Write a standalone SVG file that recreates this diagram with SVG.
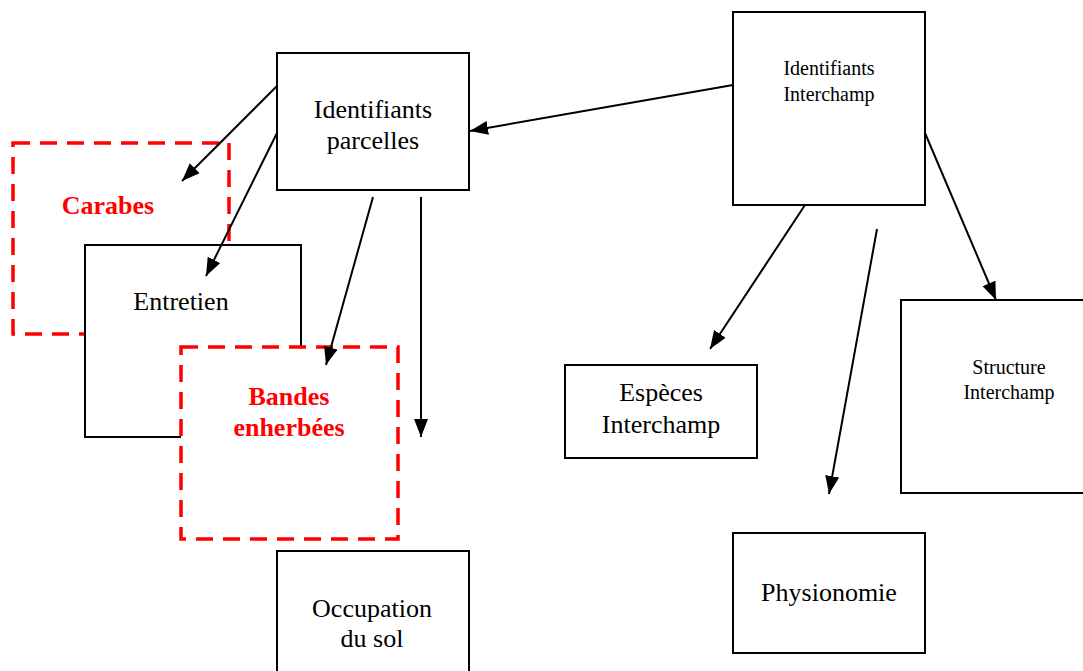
<svg xmlns="http://www.w3.org/2000/svg" width="1083" height="671" viewBox="0 0 1083 671">
<style>
.box{fill:#fff;stroke:#000;stroke-width:2}
.dash{fill:#fff;stroke:#ff0000;stroke-width:3.5;stroke-dasharray:17 10}
.t{font-family:"Liberation Serif","Times New Roman",serif;font-size:26px;fill:#000;text-anchor:middle}
.s{font-family:"Liberation Serif","Times New Roman",serif;font-size:20px;fill:#000;text-anchor:middle}
.r{font-family:"Liberation Serif","Times New Roman",serif;font-size:26px;font-weight:bold;fill:#ff0000;text-anchor:middle}
.c{fill:none;stroke:#000;stroke-width:2;marker-end:url(#ah)}
</style>
<defs>
<marker id="ah" markerUnits="userSpaceOnUse" markerWidth="19" markerHeight="15" refX="18" refY="7" orient="auto">
<path d="M0,0 L18,7 L0,14 z" fill="#000"/>
</marker>
</defs>
<rect width="1083" height="671" fill="#fff"/>
<g id="carabes">
<rect class="dash" x="13" y="143" width="216" height="191"/>
<text class="r" x="108" y="214">Carabes</text>
</g>
<g id="entretien">
<rect class="box" x="85" y="245" width="216" height="192"/>
<text class="t" x="181" y="310">Entretien</text>
</g>
<g id="bandes">
<rect class="dash" x="181" y="347" width="217" height="192"/>
<text class="r" x="289" y="405">Bandes</text>
<text class="r" x="289" y="436">enherbées</text>
</g>
<g id="identifiants-parcelles">
<rect class="box" x="277" y="53" width="192" height="137"/>
<text class="t" x="373" y="118">Identifiants</text>
<text class="t" x="373" y="149">parcelles</text>
</g>
<g id="occupation">
<rect class="box" x="277" y="551" width="192" height="130"/>
<text class="t" x="372" y="617">Occupation</text>
<text class="t" x="372" y="647">du sol</text>
</g>
<g id="identifiants-interchamp">
<rect class="box" x="733" y="12" width="192" height="193"/>
<text class="s" x="829" y="75">Identifiants</text>
<text class="s" x="829" y="101">Interchamp</text>
</g>
<g id="especes">
<rect class="box" x="565" y="365" width="192" height="93"/>
<text class="t" x="661" y="401">Espèces</text>
<text class="t" x="661" y="433">Interchamp</text>
</g>
<g id="physionomie">
<rect class="box" x="733" y="533" width="192" height="120"/>
<text class="t" x="829" y="601">Physionomie</text>
</g>
<g id="structure">
<rect class="box" x="901" y="300" width="190" height="193"/>
<text class="s" x="1009" y="374">Structure</text>
<text class="s" x="1009" y="399">Interchamp</text>
</g>
<g id="connectors">
<line class="c" x1="277" y1="86" x2="182" y2="181"/>
<line class="c" x1="277" y1="133" x2="206" y2="276"/>
<line class="c" x1="373" y1="197" x2="326" y2="365"/>
<line class="c" x1="421" y1="197" x2="421" y2="437"/>
<line class="c" x1="733" y1="85" x2="470" y2="131"/>
<line class="c" x1="805" y1="205" x2="710" y2="349"/>
<line class="c" x1="877" y1="229" x2="829" y2="494"/>
<line class="c" x1="925" y1="133" x2="996" y2="300"/>
</g>
</svg>
